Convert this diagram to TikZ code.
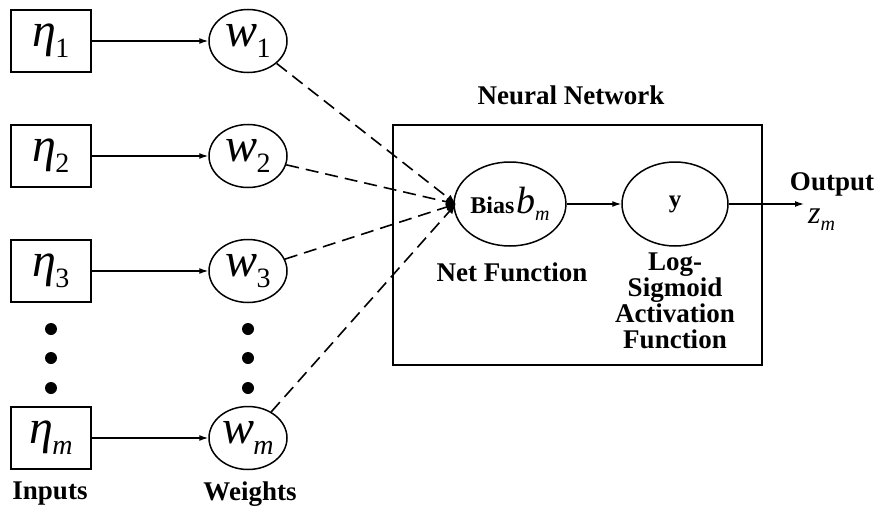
\documentclass[tikz,border=0pt]{standalone}
\usepackage{fontspec}
\setmainfont{Liberation Serif}
\usetikzlibrary{shapes.geometric,arrows.meta}
\newcommand{\varsub}[2]{{\fontsize{48}{48}\selectfont\itshape #1}\kern-1pt\raisebox{-11pt}{\fontsize{28}{28}\selectfont #2}}
\tikzset{
 inbox/.style={draw, line width=1.6pt, minimum width=80pt, minimum height=62pt, inner sep=0pt},
 wnode/.style={draw, ellipse, line width=1.5pt, minimum width=78pt, minimum height=63pt, inner sep=0pt},
 bignode/.style={draw, ellipse, line width=1.5pt, minimum width=106pt, minimum height=84pt, inner sep=0pt},
 bigdot/.style={circle, fill, minimum size=12pt, inner sep=0pt},
 lbl/.style={font=\fontsize{27}{26}\selectfont\bfseries, inner sep=0pt},
 arr/.style={-{Latex[length=9pt,width=6pt]}, line width=1.3pt},
 dasharr/.style={dash pattern=on 13pt off 7pt, line width=1.6pt, -{Latex[length=10pt,width=8pt]}},
}
\begin{document}
\begin{tikzpicture}[x=1pt,y=-1pt]
\useasboundingbox (0,0) rectangle (878,511);
% inputs
\node[inbox] (n1) at (51,41) {\varsub{η}{1}};
\node[inbox] (n2) at (51,156) {\varsub{η}{2}};
\node[inbox] (n3) at (51,271) {\varsub{η}{3}};
\node[inbox] (nm) at (51,438) {\varsub{η}{\itshape m}};
% weights
\node[wnode] (w1) at (248,41) {\varsub{w}{1}};
\node[wnode] (w2) at (248,156) {\varsub{w}{2}};
\node[wnode] (w3) at (248,271) {\varsub{w}{3}};
\node[wnode] (wm) at (248,438) {\varsub{w}{\itshape m}};
% dots
\node[bigdot] (d1) at (51,329) {};
\node[bigdot] (d2) at (51,358) {};
\node[bigdot] (d3) at (51,388) {};
\node[bigdot] (e1) at (248,329) {};
\node[bigdot] (e2) at (248,358) {};
\node[bigdot] (e3) at (248,388) {};
% arrows inputs -> weights
\draw[arr] (n1) -- (w1);
\draw[arr] (n2) -- (w2);
\draw[arr] (n3) -- (w3);
\draw[arr] (nm) -- (wm);
% neural network box
\node[draw, line width=1.6pt, minimum width=369pt, minimum height=240pt, inner sep=0pt] (nn) at (577.5,245) {};
\node[lbl] (title) at (571,95) {Neural Network};
\node[bignode] (bias) at (510,204) {{\fontsize{24}{24}\selectfont\bfseries Bias}\,{\fontsize{38}{38}\selectfont\itshape b}\raisebox{-7pt}{\fontsize{20}{20}\selectfont\itshape m}};
\node[bignode] (y) at (675,204) {{\fontsize{25}{25}\selectfont\bfseries y}};
\coordinate (conv) at (456,204);
\draw[dasharr] (w1) -- (conv);
\draw[dasharr] (w2) -- (conv);
\draw[dasharr] (w3) -- (conv);
\draw[dasharr] (wm) -- (conv);
\draw[arr] (bias) -- (y);
\coordinate (out) at (804,204);
\draw[arr] (y) -- (out);
\node[lbl] (netf) at (512,272) {Net Function};
\node[lbl, align=center] (act) at (675,301) {Log-\\Sigmoid\\Activation\\Function};
\node[lbl] (outl) at (832,184) {Output};
\node[anchor=west, inner sep=0pt] (zm) at (808,220) {{\fontsize{32}{32}\selectfont\itshape z}\raisebox{-7pt}{\fontsize{20}{20}\selectfont\itshape m}};
\node[lbl] (inl) at (50,494) {Inputs};
\node[lbl] (wl) at (250,494) {Weights};
\end{tikzpicture}
\end{document}
